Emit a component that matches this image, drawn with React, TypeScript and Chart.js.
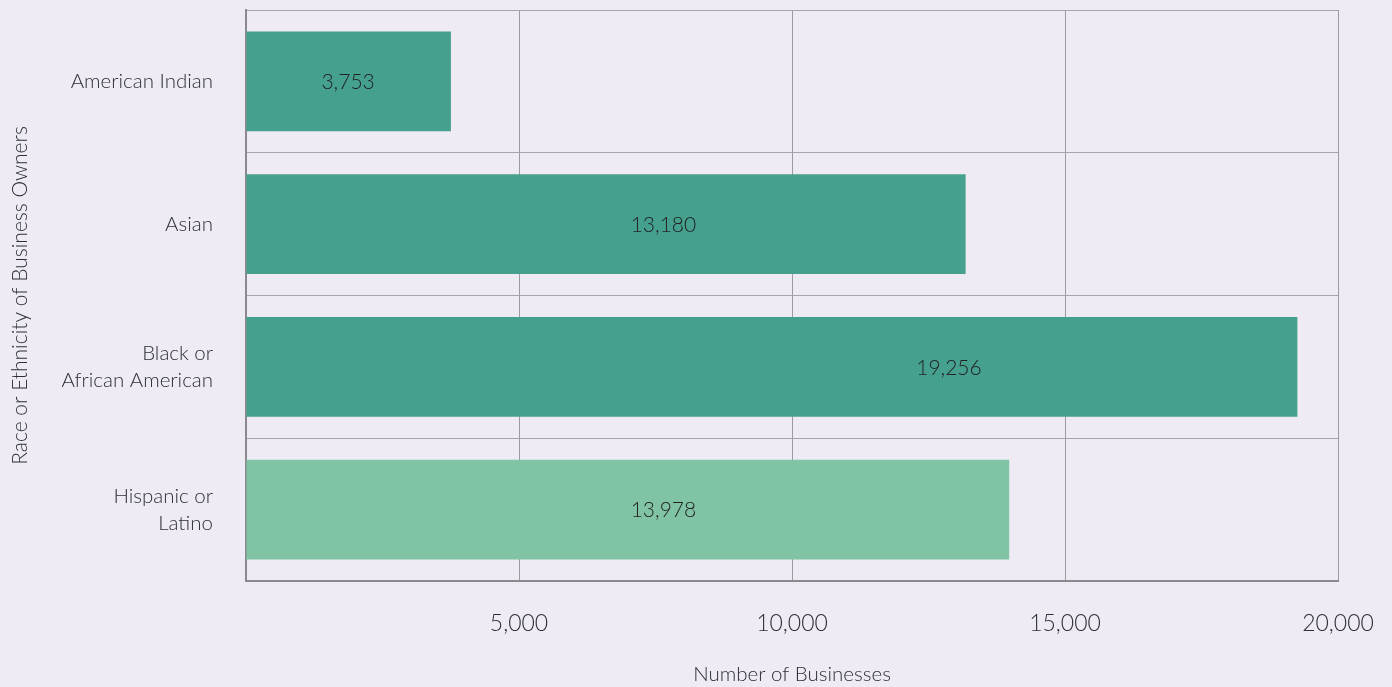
import React, { useEffect, useRef } from "react";
import { Chart, registerables } from "chart.js";

Chart.register(...registerables);

const categories: (string | string[])[] = [
  "American Indian",
  "Asian",
  ["Black or", "African American"],
  ["Hispanic or", "Latino"],
];
const businessCounts: number[] = [3753, 13180, 19256, 13978];
// horizontal anchor (in data units) of each value label, as placed in the source
const labelAnchors: number[] = [1870, 7645, 12875, 7645];
const barColors: string[] = ["#45a08e", "#45a08e", "#45a08e", "#80c4a5"];
const xTickValues: number[] = [0, 5000, 10000, 15000, 20000];

const FONT = "Lato, 'Open Sans', sans-serif";
const TEXT = "#2e2e33";

const valueLabels = {
  id: "valueLabels",
  afterDatasetsDraw(chart: any) {
    const ctx = chart.ctx;
    const meta = chart.getDatasetMeta(0);
    const xScale = chart.scales.x;
    ctx.save();
    ctx.font = `300 21px ${FONT}`;
    ctx.fillStyle = "#222";
    ctx.textAlign = "center";
    ctx.textBaseline = "middle";
    meta.data.forEach((bar: any, i: number) => {
      const v = chart.data.datasets[0].data[i] as number;
      const cx = xScale.getPixelForValue(labelAnchors[i]);
      ctx.fillText(v.toLocaleString("en-US"), cx, bar.y + 1);
    });
    ctx.restore();
  },
};

export default function App() {
  const ref = useRef<HTMLCanvasElement | null>(null);

  useEffect(() => {
    document.body.style.margin = "0";
    document.body.style.background = "#eeebf4";
    const canvas = ref.current;
    if (!canvas) return;
    const chart = new Chart(canvas, {
      type: "bar",
      data: {
        labels: categories,
        datasets: [
          {
            data: businessCounts,
            backgroundColor: barColors,
            borderWidth: 0,
            categoryPercentage: 1,
            barPercentage: 0.7,
          },
        ],
      },
      options: {
        indexAxis: "y",
        animation: false,
        responsive: false,
        maintainAspectRatio: false,
        layout: { padding: { top: 10, right: 54, left: 0, bottom: 0 } },
        plugins: {
          legend: { display: false },
          tooltip: { enabled: false },
        },
        scales: {
          x: {
            type: "linear",
            min: 0,
            max: 20000,
            afterBuildTicks: (scale: any) => {
              scale.ticks = xTickValues.map((v) => ({ value: v }));
            },
            afterFit: (scale: any) => {
              scale.height = 106;
              scale.paddingLeft = 0;
              scale.paddingRight = 0;
            },
            ticks: {
              padding: 29,
              color: TEXT,
              font: { family: FONT, size: 23, weight: 300 },
              maxRotation: 0,
              callback: (v: any) => (v === 0 ? "" : Number(v).toLocaleString("en-US")),
            },
            grid: {
              color: "#9a9a9f",
              lineWidth: 1,
              drawTicks: false,
            },
            border: { display: true, color: "#8a8a8e", width: 2 },
            title: {
              display: true,
              text: "Number of Businesses",
              color: TEXT,
              font: { family: FONT, size: 20.5, weight: 300, lineHeight: 1.2 },
              padding: { top: 0, bottom: 0 },
            },
          },
          y: {
            type: "category",
            afterFit: (scale: any) => {
              scale.width = 246;
              scale.paddingTop = 0;
              scale.paddingBottom = 0;
            },
            ticks: {
              padding: 33,
              color: TEXT,
              font: { family: FONT, size: 20.5, weight: 300, lineHeight: 1.3 },
            },
            grid: {
              offset: true,
              color: "#a5a5aa",
              lineWidth: 1,
              drawTicks: false,
            },
            border: { display: true, color: "#8a8a8e", width: 2 },
            title: {
              display: true,
              text: "Race or Ethnicity of Business Owners",
              color: TEXT,
              font: { family: FONT, size: 21, weight: 300, lineHeight: 1.2 },
              padding: { top: 8, bottom: 0 },
            },
          },
        },
      },
      plugins: [valueLabels],
    });
    return () => chart.destroy();
  }, []);

  return (
    <div style={{ position: "absolute", left: 0, top: 0, width: 1392, height: 687, background: "#eeebf4" }}>
      <canvas ref={ref} width={1392} height={687} style={{ width: 1392, height: 687 }} />
    </div>
  );
}
